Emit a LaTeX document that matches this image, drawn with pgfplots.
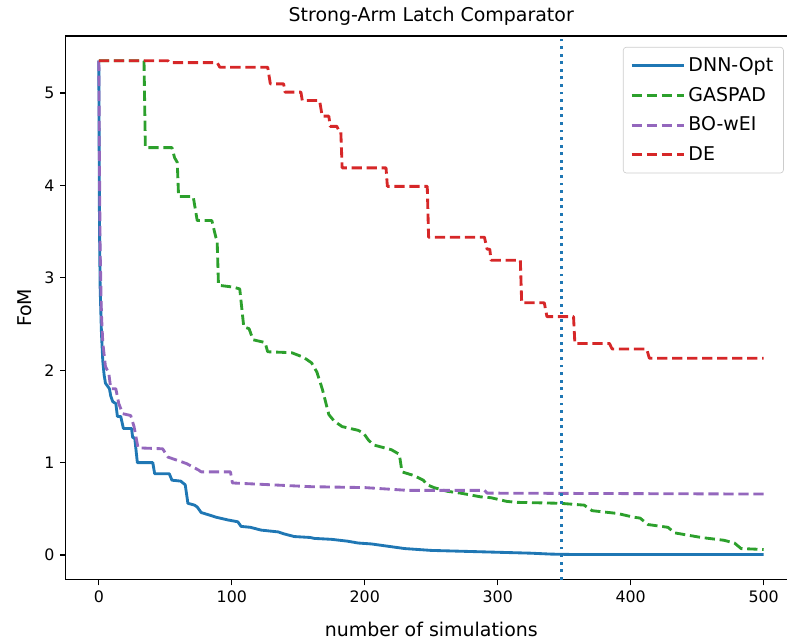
\documentclass[border=0pt]{standalone}
\usepackage{fontspec}
\setmainfont{DejaVu Sans}
\usepackage{pgfplots}
\pgfplotsset{compat=1.18}

\definecolor{cblue}{HTML}{1F77B4}
\definecolor{cgreen}{HTML}{2CA02C}
\definecolor{cpurple}{HTML}{9467BD}
\definecolor{cred}{HTML}{D62728}

\begin{document}
\begin{tikzpicture}
% page = visible part of the matplotlib figure (right spine is cut off)
\useasboundingbox (-41.5pt,-40.1pt) rectangle (456.7pt,367.0pt);
\begin{axis}[
    at={(0,0)}, anchor=south west,
    scale only axis,
    width=463pt, height=344.2pt,
    xmin=-25, xmax=525,
    ymin=-0.2675, ymax=5.6175,
    xtick={0,100,...,500},
    ytick={0,1,...,5},
    tick pos=left,
    tick align=outside,
    major tick length=3.5pt,
    every tick/.style={black, line width=0.8pt},
    axis line style={line width=0.9pt},
    /pgf/number format/assume math mode=true,
    tick label style={font=\fontsize{10}{12}\selectfont},
    every axis title shift=0pt,
    title={Strong-Arm Latch Comparator},
    title style={font=\fontsize{12}{14}\selectfont, at={(axis description cs:0.5,1.0259)}, anchor=base},
    xlabel={number of simulations},
    xlabel style={font=\fontsize{12}{14}\selectfont, at={(axis description cs:0.5,-0.1035)}, anchor=base},
    ylabel={FoM},
    ylabel style={font=\fontsize{12}{14}\selectfont, at={(axis description cs:-0.0471,0.5)}, anchor=base},
    legend style={at={(axis description cs:0.982,0.980)}, anchor=north east,
        font=\fontsize{12}{14}\selectfont, draw=black!20, rounded corners=2pt,
        fill=white, fill opacity=0.8, text opacity=1, row sep=4.4pt,
        inner xsep=4.5pt, inner ysep=4.5pt},
    legend cell align=left,
    legend image code/.code={\path (0pt,0pt) -- (33pt,0pt);\draw[#1] (0pt,0pt) -- (27pt,0pt);},
    every axis plot/.append style={line width=1.8pt, line join=round},
]

% DNN-Opt
\addplot[cblue, solid] coordinates {
(0,5.35)(0.5,3.6)(1,2.9)(2,2.4)(3,2.1)(4,1.95)(5,1.86)(8,1.80)(9,1.72)(10.5,1.66)
(12.8,1.64)(14,1.50)(16.5,1.50)(18.5,1.37)(24.6,1.37)(25.5,1.27)(27,1.27)(29,1.0)
(40.6,1.0)(42,0.88)(53,0.88)(55,0.81)(61.6,0.80)(65,0.76)(67,0.56)(72,0.54)(74,0.52)
(77,0.46)(86,0.42)(88,0.41)(94,0.39)(97,0.38)(104.5,0.36)(107,0.31)(114,0.30)
(122,0.27)(135,0.25)(139,0.23)(147,0.20)(159,0.19)(162,0.18)(175,0.17)(187,0.15)
(195,0.13)(205,0.12)(220,0.09)(230,0.07)(250,0.05)(275,0.04)(300,0.03)(325,0.02)
(340,0.01)(360,0.005)(500,0.005)
};
\addlegendentry{DNN-Opt}

% GASPAD
\addplot[cgreen, dash pattern=on 6.5pt off 3pt] coordinates {
(0,5.35)(34,5.35)(35,4.41)(55,4.41)(57,4.30)(59,4.25)(60,3.88)(71,3.88)(74,3.62)
(85,3.62)(88,3.44)(89,3.40)(90,2.92)(101,2.90)(106,2.88)(109,2.47)(113,2.45)
(116,2.33)(125,2.30)(127,2.20)(145,2.19)(154,2.14)(160,2.08)(164,1.98)(168,1.80)
(173,1.52)(177,1.45)(183,1.39)(195,1.35)(199,1.32)(203,1.24)(207,1.19)(220,1.14)
(226,1.09)(228,0.90)(237,0.86)(244,0.81)(247,0.76)(252,0.73)(262,0.69)(272,0.67)
(287,0.63)(295,0.62)(307,0.58)(315,0.57)(347,0.56)(365,0.54)(371,0.48)(390,0.45)
(402,0.41)(407,0.40)(413,0.33)(428,0.30)(433,0.24)(453,0.19)(470,0.16)(478,0.13)
(483,0.07)(500,0.06)
};
\addlegendentry{GASPAD}

% BO-wEI
\addplot[cpurple, dash pattern=on 6.5pt off 3pt] coordinates {
(0,5.35)(0.5,4.2)(1,3.3)(2,2.6)(3,2.3)(5,2.04)(7.5,1.97)(9,1.80)(12.8,1.80)(15,1.64)
(18,1.53)(24,1.51)(26.5,1.39)(29.5,1.16)(48,1.15)(52,1.06)(64,1.0)(66,0.99)
(75,0.92)(77,0.90)(99,0.90)(100.5,0.78)(130,0.76)(159,0.74)(200,0.73)(232,0.70)
(290,0.70)(292,0.67)(500,0.66)
};
\addlegendentry{BO-wEI}

% DE
\addplot[cred, dash pattern=on 6.5pt off 3pt] coordinates {
(0,5.35)(52,5.35)(53,5.33)(89,5.33)(91,5.28)(127,5.28)(129,5.10)(139,5.10)
(140,5.01)(152,5.01)(153,4.92)(166,4.92)(168,4.75)(173,4.75)(174,4.64)(179,4.64)
(181,4.58)(182,4.58)(183,4.19)(216,4.19)(217,3.99)(247,3.99)(248,3.44)(290,3.44)
(292,3.31)(294,3.31)(295,3.19)(317,3.19)(318,2.73)(335,2.73)(337,2.58)(357,2.58)
(358,2.29)(384,2.29)(386,2.23)(412,2.23)(414,2.13)(500,2.13)
};
\addlegendentry{DE}

% vertical marker
\addplot[cblue, line width=1.8pt, dash pattern=on 1.8pt off 3pt, forget plot] coordinates {
(348,-0.2675)(348,5.6175)
};

\end{axis}
\end{tikzpicture}
\end{document}
